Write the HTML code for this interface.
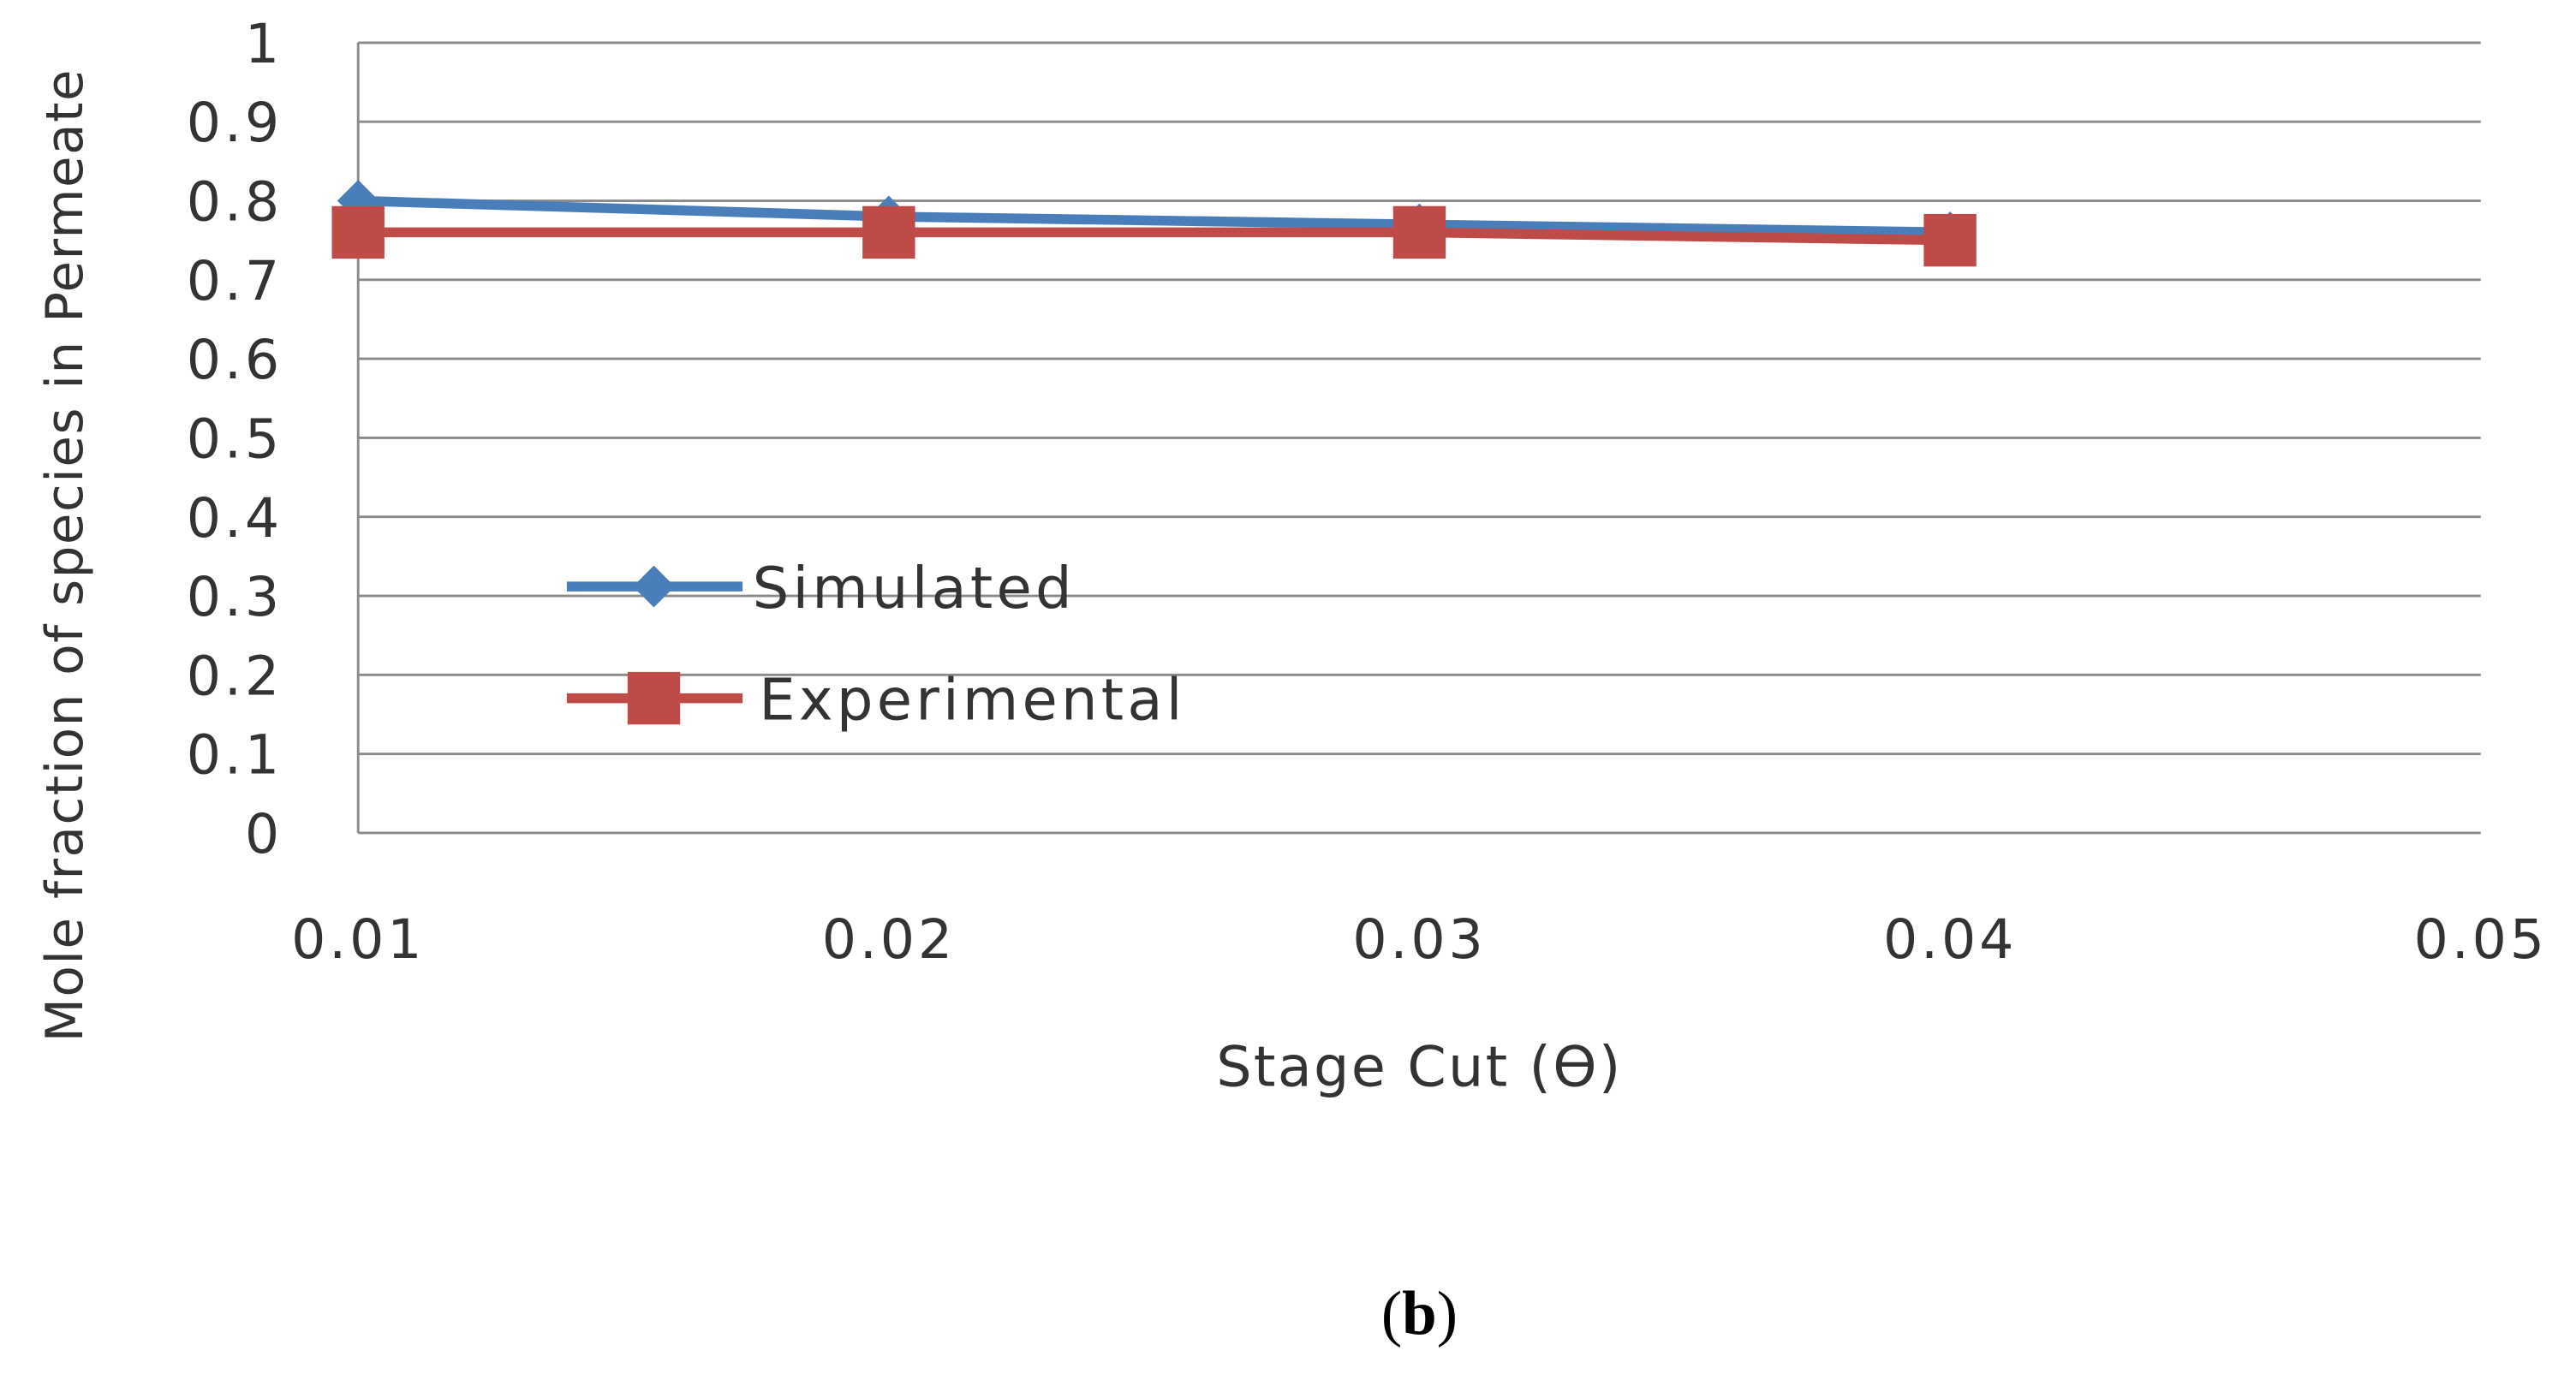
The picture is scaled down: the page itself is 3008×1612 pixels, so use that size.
<!DOCTYPE html>
<html><head><meta charset="utf-8"><style>
html,body{margin:0;padding:0;background:#fff;}
svg{display:block;}
text{font-family:"DejaVu Sans","Liberation Sans",sans-serif;fill:#333;}
</style></head><body>
<svg id="chart" width="3008" height="1612" viewBox="0 0 1568 840" preserveAspectRatio="none" xmlns="http://www.w3.org/2000/svg">
<g id="grid"></g>
<g id="yticks"></g>
<g id="xticks"></g>
<g id="series"></g>
<text x="864" y="661" font-size="34" letter-spacing="1.2" text-anchor="middle">Stage Cut (ϴ)</text>
<text transform="translate(50,338) rotate(-90)" font-size="31" letter-spacing="0.8" text-anchor="middle">Mole fraction of species in Permeate</text>
<text x="864" y="812" font-size="38" text-anchor="middle" style="font-family:'Liberation Serif',serif;fill:#000">(<tspan font-weight="bold">b</tspan>)</text>
<g>
<line x1="345" y1="357" x2="452" y2="357" stroke="#4a7ebb" stroke-width="6"/>
<rect x="389" y="348" width="18" height="18" fill="#4a7ebb" transform="rotate(45 398 357)"/>
<text x="458" y="370" font-size="35" letter-spacing="2.2">Simulated</text>
<line x1="345" y1="425" x2="452" y2="425" stroke="#be4b48" stroke-width="6"/>
<rect x="382" y="409" width="32" height="32" fill="#be4b48"/>
<text x="462" y="438" font-size="35" letter-spacing="2.2">Experimental</text>
</g>
</svg>
<script>
const xCats=[0.01,0.02,0.03,0.04];
const simulated=[0.80,0.78,0.77,0.76];
const experimental=[0.76,0.76,0.76,0.75];
const yTicks=["0","0.1","0.2","0.3","0.4","0.5","0.6","0.7","0.8","0.9","1"];
const xTicks=["0.01","0.02","0.03","0.04","0.05"];
const NS="http://www.w3.org/2000/svg";
const L=218,R=1510,T=26,B=507;
const xs=v=>L+(v-0.01)/0.04*(R-L);
const ys=v=>B-v*(B-T);
function mk(t,a,p){const e=document.createElementNS(NS,t);for(const k in a)e.setAttribute(k,a[k]);p.appendChild(e);return e;}
const g=document.getElementById('grid'),yt=document.getElementById('yticks'),xt=document.getElementById('xticks'),s=document.getElementById('series');
yTicks.forEach(t=>{const v=parseFloat(t);
 const ln=mk('line',{x1:L,x2:R,y1:ys(v),y2:ys(v),stroke:'#8a8a8a','stroke-width':1.5},g);
 
 
 const tx=mk('text',{x:172,y:ys(v)+12,'font-size':33,'text-anchor':'end','letter-spacing':2},yt);tx.textContent=t;
 
 });
const ax=mk('line',{x1:L,x2:L,y1:T,y2:B,stroke:'#8a8a8a','stroke-width':1.5},g);


xTicks.forEach(t=>{const tx=mk('text',{x:xs(parseFloat(t)),y:583,'font-size':33,'text-anchor':'middle','letter-spacing':2},xt);tx.textContent=t;
 
 });
function drawSeries(vals,col,name,marker){
 const pl=mk('polyline',{points:vals.map((v,i)=>xs(xCats[i])+','+ys(v)).join(' '),fill:'none',stroke:col,'stroke-width':6},s);
 
 
 vals.forEach((v,i)=>{const x=xs(xCats[i]),y=ys(v);let m;
  if(marker==='d')m=mk('rect',{x:x-9,y:y-9,width:18,height:18,fill:col,transform:`rotate(45 ${x} ${y})`},s);
  else m=mk('rect',{x:x-16,y:y-16,width:32,height:32,fill:col},s);
  
  });
}
drawSeries(simulated,'#4a7ebb','simulated','d');
drawSeries(experimental,'#be4b48','experimental','s');
</script>
</body></html>
